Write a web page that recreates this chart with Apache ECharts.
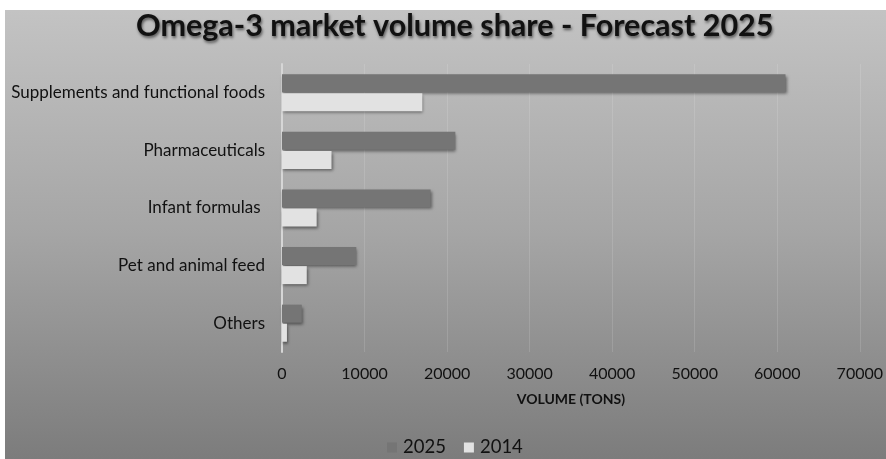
<!DOCTYPE html>
<html>
<head>
<meta charset="utf-8">
<script src="https://cdn.jsdelivr.net/npm/echarts@6/dist/echarts.min.js"></script>
<style>
  html, body { margin: 0; padding: 0; background: #ffffff; }
  #chart { width: 886px; height: 459px; }
</style>
</head>
<body>
<div id="chart"></div>
<script>
// Omega-3 market volume by application (tons)
const categories = ['Supplements and functional foods', 'Pharmaceuticals', 'Infant formulas ', 'Pet and animal feed', 'Others'];
const volume2025 = [61000, 21000, 18000, 9000, 2400];
const volume2014 = [17000, 6000, 4200, 3000, 600];
const seriesNames = ['2025', '2014'];
const xTicks = { min: 0, max: 70000, step: 10000 };

const chart = echarts.init(document.getElementById('chart'));

const barShadow = {
  shadowColor: 'rgba(0,0,0,0.45)',
  shadowBlur: 3,
  shadowOffsetX: 1,
  shadowOffsetY: 2
};

chart.setOption({
  animation: false,
  graphic: [{
    type: 'rect',
    z: -10,
    silent: true,
    shape: { x: 5, y: 10, width: 881, height: 449 },
    style: {
      fill: new echarts.graphic.LinearGradient(0, 0, 0, 1, [
        { offset: 0, color: '#c3c3c3' },
        { offset: 0.5, color: '#a5a5a5' },
        { offset: 1, color: '#7c7c7c' }
      ])
    }
  }],
  title: {
    text: 'Omega-3 market volume share - Forecast 2025',
    left: 131,
    top: 6,
    textStyle: {
      fontFamily: 'Lato',
      fontWeight: 'bold',
      fontSize: 30.5,
      color: '#111111',
      textShadowColor: 'rgba(0,0,0,0.55)',
      textShadowBlur: 3,
      textShadowOffsetX: 1,
      textShadowOffsetY: 2
    }
  },
  legend: {
    data: seriesNames,
    bottom: -3,
    left: 382,
    itemWidth: 10,
    itemHeight: 10,
    itemGap: 18,
    icon: 'rect',
    itemStyle: { shadowBlur: 0, shadowOffsetX: 0, shadowOffsetY: 0 },
    textStyle: { fontFamily: 'Lato', fontSize: 18.5, color: '#111111', padding: [0, 0, 0, 1] }
  },
  grid: { left: 282, right: 25, top: 64, bottom: 107 },
  xAxis: {
    type: 'value',
    min: xTicks.min,
    max: xTicks.max,
    interval: xTicks.step,
    name: 'VOLUME (TONS)',
    nameLocation: 'middle',
    nameGap: 40,
    nameTextStyle: { fontFamily: 'Lato', fontWeight: 'bold', fontSize: 14, color: '#111111' },
    axisLine: { show: false },
    axisTick: { show: false },
    axisLabel: {
      fontFamily: 'Lato',
      fontSize: 16,
      color: '#111111',
      margin: 14,
      formatter: (v) => String(v)
    },
    splitLine: { show: true, lineStyle: { color: 'rgba(255,255,255,0.13)', width: 1 } }
  },
  yAxis: {
    type: 'category',
    data: categories,
    inverse: true,
    axisLine: { show: true, lineStyle: { color: '#d6d6d6', width: 2 } },
    axisTick: { show: false },
    axisLabel: { fontFamily: 'Lato', fontSize: 17, color: '#111111', margin: 17 },
    splitLine: { show: false }
  },
  series: [
    {
      name: seriesNames[0],
      type: 'bar',
      data: volume2025,
      barWidth: 18,
      barGap: '6%',
      itemStyle: Object.assign({ color: '#757575' }, barShadow)
    },
    {
      name: seriesNames[1],
      type: 'bar',
      data: volume2014,
      barWidth: 18,
      barGap: '6%',
      itemStyle: Object.assign({ color: '#e2e2e2' }, barShadow)
    }
  ]
});
</script>
</body>
</html>
